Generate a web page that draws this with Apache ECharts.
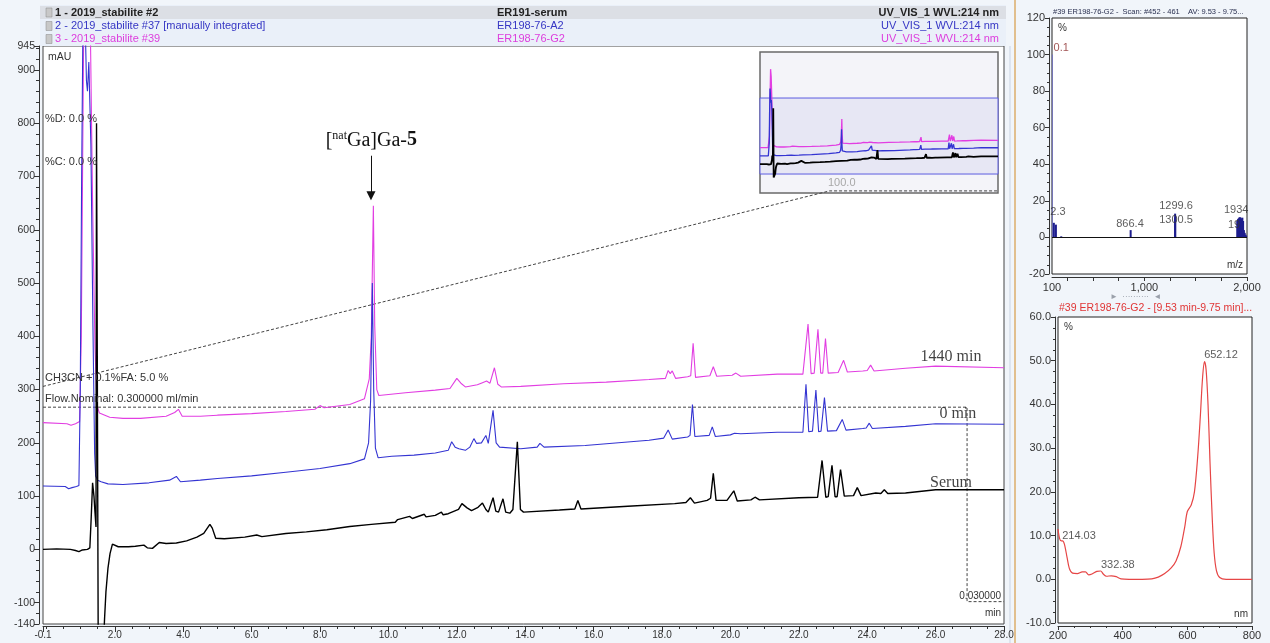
<!DOCTYPE html>
<html><head><meta charset="utf-8">
<script src="https://cdn.jsdelivr.net/npm/echarts@6/dist/echarts.min.js"></script>
<style>html,body{margin:0;padding:0;background:#fff}#c{width:1270px;height:643px}</style>
</head><body><div id="c"></div><script>
// ---------- DATA ----------
const timeTicks = [-0.1, 2, 4, 6, 8, 10, 12, 14, 16, 18, 20, 22, 24, 26, 28];
const mauTicks = [-140, -100, 0, 100, 200, 300, 400, 500, 600, 700, 800, 900, 945];
const mauMin = -140, mauMax = 945;
const mzTicks = [100, 1000, 2000];

const serumTrace = [[-0.1,0],[0.3,1],[0.7,0],[0.85,-2],[0.95,-4],[1.05,-1],[1.2,0],[1.27,3],[1.31,60],[1.35,125],[1.39,100],[1.42,70],[1.45,42],[1.465,800],[1.5,800],[1.515,-190],[1.6,-190],[1.66,-190],[1.7,-130],[1.74,-80],[1.8,-35],[1.86,-8],[1.93,10],[1.98,8],[2.1,5],[2.4,5],[2.6,6],[2.85,8],[2.95,3],[3.1,2],[3.3,13],[3.5,11],[3.8,12],[4.1,16],[4.4,23],[4.6,30],[4.78,47],[4.85,40],[4.95,21],[5.2,20],[5.8,23],[6.15,27],[6.3,24],[7.0,30],[7.6,33],[8.2,37],[8.87,43],[9.5,47],[10.2,51],[10.27,56],[10.62,62],[10.7,58],[11.05,66],[11.1,61],[11.37,64],[11.55,70],[11.6,65],[11.75,67],[12.05,75],[12.15,86],[12.3,78],[12.43,73],[12.62,79],[12.75,87],[12.85,75],[12.92,70],[13.06,97],[13.14,72],[13.22,70],[13.35,95],[13.43,70],[13.55,68],[13.64,75],[13.77,202],[13.86,75],[13.95,70],[15.0,74],[15.45,76],[15.54,92],[15.63,76],[17.0,81],[18.37,86],[18.7,88],[18.83,97],[18.95,87],[19.32,92],[19.42,96],[19.5,143],[19.58,92],[19.9,92],[20.1,110],[20.2,91],[20.6,93],[20.72,98],[20.85,93],[22.0,97],[22.55,98],[22.68,167],[22.79,98],[22.86,99],[22.97,158],[23.06,99],[23.12,99],[23.22,150],[23.33,100],[23.6,101],[23.71,116],[23.82,101],[24.25,106],[24.4,105],[24.5,112],[24.6,105],[25.12,106],[26.0,112],[28,112]];

const min0Trace = [[-0.1,119],[0.55,118],[0.65,114],[0.75,116],[0.88,118],[0.95,120],[0.99,300],[1.03,700],[1.08,1080],[1.13,1000],[1.17,880],[1.2,860],[1.24,915],[1.3,760],[1.36,420],[1.41,180],[1.44,138],[1.5,130],[1.6,127],[1.8,123],[2.24,122],[3.0,125],[3.6,130],[3.8,137],[3.92,127],[4.5,130],[5.0,133],[6.0,138],[7.0,145],[8.0,152],[8.87,161],[9.3,170],[9.42,200],[9.48,280],[9.53,500],[9.57,300],[9.62,190],[9.7,172],[10.1,175],[10.75,177],[11.37,181],[11.75,186],[11.85,202],[11.95,192],[12.06,189],[12.25,186],[12.38,192],[12.5,208],[12.58,199],[12.72,200],[12.85,214],[12.92,199],[13.06,261],[13.15,200],[13.25,192],[13.87,189],[14.35,192],[14.43,199],[14.55,192],[15.75,195],[17.62,205],[18.05,209],[18.18,224],[18.3,207],[18.75,211],[18.82,214],[18.89,272],[18.96,212],[19.38,214],[19.47,230],[19.56,212],[20.0,215],[20.12,218],[20.3,217],[21.37,220],[22.12,220],[22.21,310],[22.29,221],[22.4,222],[22.5,299],[22.58,221],[22.65,222],[22.75,285],[22.84,222],[23.1,223],[23.27,244],[23.38,224],[23.87,227],[23.97,228],[24.06,237],[24.15,227],[25.12,231],[26.0,236],[28,235]];

const min1440Trace = [[-0.1,238],[0.6,236],[0.72,233],[0.85,236],[0.97,240],[1.02,400],[1.08,900],[1.15,1357],[1.22,1250],[1.28,1000],[1.35,650],[1.42,380],[1.48,270],[1.55,256],[1.85,248],[2.24,246],[2.75,246],[3.5,250],[3.75,257],[3.86,263],[3.97,250],[4.5,250],[5.0,252],[6.0,255],[7.0,259],[7.85,263],[8.0,270],[8.12,266],[8.87,272],[9.3,283],[9.44,320],[9.5,400],[9.56,645],[9.6,420],[9.66,300],[9.72,289],[10.5,294],[11.37,299],[11.8,302],[12.0,321],[12.12,312],[12.25,305],[12.6,309],[12.75,313],[12.87,316],[12.97,312],[13.1,341],[13.2,310],[13.3,305],[13.87,306],[15.12,311],[16.37,314],[17.62,319],[18.1,321],[18.18,336],[18.24,330],[18.3,335],[18.4,321],[18.75,324],[18.84,326],[18.91,387],[18.98,323],[19.4,326],[19.5,343],[19.6,325],[20.05,327],[20.16,331],[20.3,325],[21.37,329],[22.12,329],[22.27,423],[22.36,330],[22.45,331],[22.56,413],[22.64,331],[22.7,331],[22.78,396],[22.86,331],[23.15,332],[23.31,355],[23.42,333],[23.87,335],[24.0,336],[24.1,346],[24.2,335],[25.12,340],[26.0,344],[28,341]];

const gradientProfile = [[-0.1,306],[22.9,673],[27.85,673]];
const flowProfile = [[-0.1,267],[26.92,267],[26.92,-98],[28,-98]];

const msPeaks = [[100.1,100],[118,8],[138,7],[190,0.6],[866.4,4],[1299.6,13],[1300.5,11],[1905,9],[1912,10],[1920,10.5],[1927,11],[1934,11],[1941,10.5],[1948,10],[1955,10.8],[1962,9],[1970,4],[1978,2.5],[1985,1.5],[1992,1]];
const msBaseLabel = [['0.1',[190,103.5]]];
const msLabels = [['2.3',[158,13.7]],['866.4',[860,7.1]],['1299.6',[1308,17]],['1300.5',[1308,9.3]],['1934',[1895,14.8]],['19',[1874,6.6]]];

const uvSpectrum = [[200,11.5],[205,9.3],[210,8.8],[214,8.8],[220,8.0],[228,5],[235,2.5],[245,1.4],[260,1.3],[275,1.7],[285,1.7],[295,1.0],[305,1.2],[320,1.8],[332,1.9],[340,1.2],[350,0.7],[365,0.8],[380,0.6],[395,0.1],[420,0],[460,0],[490,0.1],[510,0.5],[530,1.3],[550,2.6],[565,4.2],[580,7.5],[592,12],[600,15.5],[612,17],[622,20],[632,28],[640,37],[647,46],[653,49.8],[658,48],[664,40],[670,27],[677,14],[683,6],[690,2],[700,0.4],[720,0],[760,0],[800,0]];
const uvLabels = [['214.03',[265,9.8]],['332.38',[385,3.2]],['652.12',[704,51.3]]];

const traceLabels = [['1440 min',[26.45,361]],['0 min',[26.65,254]],['Serum',[26.45,125]]];
const annotPos = [9.5, 768];
const arrowFrom = [9.49, 739], arrowTo = [9.49, 664];

// ---------- CHART ----------
const FONT = 'Liberation Sans';
const SERIF = 'Liberation Serif';
const C_BLACK = '#000', C_BLUE = '#3434d2', C_PINK = '#e23ee2';
const minorTime = []; for (let t = 0; t <= 28.001; t += 0.5) minorTime.push(+t.toFixed(1));
const minorMz = []; for (let m = 250; m <= 2000; m += 250) minorMz.push(m);

const chart = echarts.init(document.getElementById('c'));
const axisTxt = {color:'#333', fontFamily:FONT, fontSize:10};
const lineAx = {show:true, onZero:false, lineStyle:{color:'#333', width:1}};
const noLine = {show:false, onZero:false};

function labelScatter(arr, xi, yi, style) {
  return {type:'scatter', xAxisIndex:xi, yAxisIndex:yi, symbolSize:0, silent:true, z:6,
    data: arr.map(a => ({name:a[0], value:a[1]})),
    label:Object.assign({show:true, position:'inside', formatter:p=>p.name, fontFamily:FONT, fontSize:11, color:'#333'}, style||{})};
}

const hdr = [];
const rowsY = [12.5, 26, 39];
const rowCol = ['#222', '#3636c4', '#dd3ddd'];
const rowTxt = [['1 - 2019_stabilite #2','ER191-serum'],['2 - 2019_stabilite #37 [manually integrated]','ER198-76-A2'],['3 - 2019_stabilite #39','ER198-76-G2']];
hdr.push({type:'rect', shape:{x:40,y:5,width:966,height:41}, style:{fill:'#eaf0f9'}, silent:true});
hdr.push({type:'rect', shape:{x:40,y:6,width:966,height:13}, style:{fill:'#dcdfe5'}, silent:true});
rowsY.forEach((y,i)=>{
  hdr.push({type:'rect', shape:{x:46,y:y-4.5,width:6,height:9}, style:{fill:'#c8c8c8', stroke:'#888', lineWidth:0.5}, silent:true});
  const fw = i===0 ? 'bold' : 'normal';
  hdr.push({type:'text', x:55, y:y, style:{text:rowTxt[i][0], fill:rowCol[i], font:fw+' 11px '+FONT, textVerticalAlign:'middle'}, silent:true});
  hdr.push({type:'text', x:497, y:y, style:{text:rowTxt[i][1], fill:rowCol[i], font:fw+' 11px '+FONT, textVerticalAlign:'middle'}, silent:true});
  hdr.push({type:'text', x:999, y:y, style:{text:'UV_VIS_1 WVL:214 nm', fill:rowCol[i], font:fw+' 11px '+FONT, textAlign:'right', textVerticalAlign:'middle'}, silent:true});
});
const txt = (x,y,t,extra) => ({type:'text', x, y, silent:true, z:10, style:Object.assign({text:t, fill:'#333', font:'11px '+FONT, textVerticalAlign:'middle'}, extra||{})});
const graphics = hdr.concat([
  {type:'line', shape:{x1:1015,y1:0,x2:1015,y2:643}, style:{stroke:'#e1bf8e', lineWidth:2}, silent:true},
  {type:'line', shape:{x1:1010,y1:46,x2:1010,y2:643}, style:{stroke:'#c9d3e3', lineWidth:1}, silent:true},
  txt(48,57,'mAU',{font:'10.5px '+FONT}),
  txt(45,119,'%D: 0.0 %'),
  txt(45,162,'%C: 0.0 %'),
  txt(45,378,'CH3CN + 0.1%FA: 5.0 %'),
  txt(45,399,'Flow.Nominal: 0.300000 ml/min'),
  txt(1001,596,'0.030000',{textAlign:'right', font:'10px '+FONT}),
  txt(1001,613,'min',{textAlign:'right', font:'10px '+FONT}),
  txt(828,183,'100.0',{fill:'#a8a8a8'}),
  txt(1053,12,'#39 ER198-76-G2 -  Scan: #452 - 461    AV: 9.53 - 9.75...',{font:'7.5px '+FONT, fill:'#2a3050'}),
  txt(1058,28,'%',{font:'10px '+FONT}),
  txt(1243,265,'m/z',{textAlign:'right', font:'10px '+FONT}),
  txt(1110,297,'\u25BA  \u00B7\u00B7\u00B7\u00B7\u00B7\u00B7\u00B7\u00B7\u00B7\u00B7  \u25C4',{font:'8px '+FONT, fill:'#9aa0aa'}),
  txt(1059,308,'#39 ER198-76-G2 - [9.53 min-9.75 min]...',{font:'10.5px '+FONT, fill:'#e03535'}),
  txt(1064,327,'%',{font:'10px '+FONT}),
  txt(1248,614,'nm',{textAlign:'right', font:'10px '+FONT})
]);

const option = {
  animation:false,
  backgroundColor:'#f1f5fa',
  graphic: graphics,
  grid:[
    {left:43, top:46, width:961, height:578, show:true, backgroundColor:'#fff', borderColor:'#444', borderWidth:1},
    {left:760, top:52, width:238, height:141, show:true, backgroundColor:'#f4f4f9', borderColor:'#6a6a6a', borderWidth:1.5},
    {left:1052, top:18, width:195, height:256, show:true, backgroundColor:'#fff', borderColor:'#222', borderWidth:1},
    {left:1058, top:317, width:194, height:306, show:true, backgroundColor:'#fff', borderColor:'#222', borderWidth:1}
  ],
  xAxis:[
    {gridIndex:0, type:'value', position:'bottom', min:-0.1, max:28, offset:2, axisLine:lineAx, splitLine:{show:false},
     axisTick:{show:true, customValues:timeTicks, length:6, lineStyle:{color:'#333'}},
     axisLabel:Object.assign({customValues:timeTicks, margin:4, formatter:v=>v.toFixed(1)}, axisTxt)},
    {gridIndex:0, type:'value', position:'bottom', min:-0.1, max:28, offset:2, axisLine:noLine, splitLine:{show:false},
     axisTick:{show:true, customValues:minorTime, length:3, lineStyle:{color:'#333'}}, axisLabel:{show:false}},
    {gridIndex:1, type:'value', min:-0.1, max:28, show:false},
    {gridIndex:2, type:'value', position:'bottom', min:100, max:2000, offset:3, axisLine:lineAx, splitLine:{show:false},
     axisTick:{show:true, customValues:minorMz, length:4, lineStyle:{color:'#333'}},
     axisLabel:Object.assign({customValues:mzTicks, margin:5, formatter:v=>v.toLocaleString('en-US')}, axisTxt, {fontSize:11})},
    {gridIndex:3, type:'value', position:'bottom', min:200, max:800, interval:200, offset:3, axisLine:lineAx, splitLine:{show:false},
     axisTick:{show:true, length:4, lineStyle:{color:'#333'}}, minorTick:{show:true, splitNumber:4, length:2, lineStyle:{color:'#333'}},
     axisLabel:Object.assign({margin:4}, axisTxt, {fontSize:11})}
  ],
  yAxis:[
    {gridIndex:0, type:'value', position:'left', min:mauMin, max:mauMax, offset:4, axisLine:lineAx, splitLine:{show:false},
     axisTick:{show:true, customValues:mauTicks, length:5, lineStyle:{color:'#333'}},
     axisLabel:Object.assign({customValues:mauTicks, margin:4}, axisTxt, {fontSize:10.5})},
    {gridIndex:0, type:'value', position:'left', min:mauMin, max:mauMax, interval:20, offset:4, axisLine:noLine, splitLine:{show:false},
     axisTick:{show:true, length:3, lineStyle:{color:'#333'}}, axisLabel:{show:false}},
    {gridIndex:1, type:'value', min:-411, max:1602, show:false},
    {gridIndex:2, type:'value', position:'left', min:-20, max:120, interval:20, offset:3, axisLine:lineAx, splitLine:{show:false},
     axisTick:{show:true, length:4, lineStyle:{color:'#333'}}, minorTick:{show:true, splitNumber:4, length:2, lineStyle:{color:'#333'}},
     axisLabel:Object.assign({margin:4}, axisTxt, {fontSize:11})},
    {gridIndex:3, type:'value', position:'left', min:-10, max:60, interval:10, offset:3, axisLine:lineAx, splitLine:{show:false},
     axisTick:{show:true, length:4, lineStyle:{color:'#333'}}, minorTick:{show:true, splitNumber:4, length:2, lineStyle:{color:'#333'}},
     axisLabel:Object.assign({margin:4, formatter:v=>v.toFixed(1)}, axisTxt, {fontSize:11})}
  ],
  series:[
    {type:'line', name:'gradient', xAxisIndex:0, yAxisIndex:0, data:gradientProfile, symbol:'none', silent:true,
     lineStyle:{color:'#444', width:1, type:[3,2]}},
    {type:'line', name:'flow', xAxisIndex:0, yAxisIndex:0, data:flowProfile, symbol:'none', silent:true,
     lineStyle:{color:'#444', width:1, type:[3,2]}},
    {type:'line', name:'1440 min', xAxisIndex:0, yAxisIndex:0, data:min1440Trace, symbol:'none', clip:true,
     lineStyle:{color:C_PINK, width:1.1},
     markPoint:{symbolSize:0, silent:true, itemStyle:{color:'transparent'},
       label:{show:true, position:'inside', formatter:'{a|[}{s|nat}{a|Ga]Ga-}{b|5}',
         rich:{a:{fontFamily:SERIF, fontSize:20, color:'#111'}, s:{fontFamily:SERIF, fontSize:12, color:'#111', verticalAlign:'top', padding:[0,0,9,0]}, b:{fontFamily:SERIF, fontSize:20, fontWeight:'bold', color:'#111'}}},
       data:[{coord:annotPos}]},
     markLine:{silent:true, symbol:['none','triangle'], symbolSize:9, label:{show:false},
       itemStyle:{color:'#111'},
       lineStyle:{color:'#111', width:1, type:'solid'}, data:[[{coord:arrowFrom},{coord:arrowTo}]]}},
    {type:'line', name:'0 min', xAxisIndex:0, yAxisIndex:0, data:min0Trace, symbol:'none', clip:true,
     lineStyle:{color:C_BLUE, width:1.1}},
    {type:'line', name:'Serum', xAxisIndex:0, yAxisIndex:0, data:serumTrace, symbol:'none', clip:true,
     lineStyle:{color:C_BLACK, width:1.4}},
    labelScatter(traceLabels, 0, 0, {fontFamily:SERIF, fontSize:16, color:'#111'}),
    // inset
    {type:'line', xAxisIndex:2, yAxisIndex:2, data:min1440Trace, symbol:'none', silent:true, lineStyle:{color:C_PINK, width:1.3},
     markArea:{silent:true, itemStyle:{color:'#e7e7f4', borderColor:'#5c5ce0', borderWidth:1},
       data:[[{coord:[-0.1, mauMin]},{coord:[28, mauMax]}]]}},
    {type:'line', xAxisIndex:2, yAxisIndex:2, data:min0Trace, symbol:'none', silent:true, lineStyle:{color:C_BLUE, width:1.3}},
    {type:'line', xAxisIndex:2, yAxisIndex:2, data:serumTrace, symbol:'none', silent:true, lineStyle:{color:C_BLACK, width:1.8}},
    // mass spectrum
    {type:'bar', xAxisIndex:3, yAxisIndex:3, data:msPeaks, barWidth:2, silent:true,
     itemStyle:{color:p=>p.dataIndex===0?'#7474b6':'#1d1d8e'},
     markLine:{silent:true, symbol:'none', label:{show:false}, lineStyle:{color:'#111', width:1, type:'solid'}, data:[{yAxis:0}]}},
    labelScatter(msBaseLabel, 3, 3, {fontSize:11, color:'#8b2a2a'}),
    labelScatter(msLabels, 3, 3, {fontSize:11, color:'#333'}),
    // uv
    {type:'line', xAxisIndex:4, yAxisIndex:4, data:uvSpectrum, symbol:'none', smooth:0.3, silent:true, lineStyle:{color:'#e64646', width:1.2}},
    labelScatter(uvLabels, 4, 4, {fontSize:11, color:'#333'})
  ]
};
chart.setOption(option);
</script></body></html>
